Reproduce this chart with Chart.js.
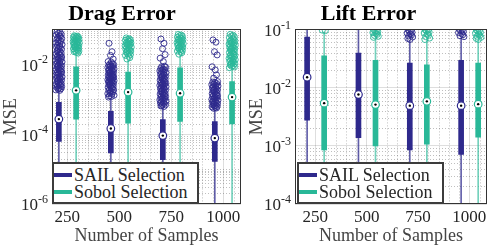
<!DOCTYPE html>
<html>
<head>
<meta charset="utf-8">
<script src="https://cdn.jsdelivr.net/npm/chart.js@4.4.1/dist/chart.umd.min.js"></script>
<style>
  html, body { margin: 0; padding: 0; background: #fff; }
  #wrap { position: relative; width: 492px; height: 248px; overflow: hidden; }
  canvas { position: absolute; top: 0; }
  #drag-chart { left: 0; }
  #lift-chart { left: 246px; }
  .legend {
    position: absolute; top: 162px; width: 143px; height: 38px;
    border: 2px solid #3c3c3c; background: #fff;
    font: 18px 'Liberation Serif', 'Times New Roman', serif; color: #262626;
  }
  .legend div { position: absolute; left: 20px; line-height: 18px; white-space: nowrap; }
  .legend span { position: absolute; left: -20px; top: 7px; width: 18px; height: 4px; }
</style>
</head>
<body>
<div id="wrap">
  <canvas id="drag-chart" width="246" height="248"></canvas>
  <canvas id="lift-chart" width="246" height="248"></canvas>
  <div class="legend" style="left:52px">
    <div style="top:2px"><span style="background:#2e298c"></span>SAIL Selection</div>
    <div style="top:19px"><span style="background:#29b898"></span>Sobol Selection</div>
  </div>
  <div class="legend" style="left:297px">
    <div style="top:2px"><span style="background:#2e298c"></span>SAIL Selection</div>
    <div style="top:19px"><span style="background:#29b898"></span>Sobol Selection</div>
  </div>
</div>
<script>
'use strict';

const sampleSizes = [250, 500, 750, 1000];

// box stats per sample size: [lower whisker, q1, median, q3, upper whisker]
const dragSailStats = [
  [3e-7, 6.2e-5, 2.7e-4, 8.2e-4, 1.7e-3],
  [3e-7, 2.9e-5, 1.45e-4, 4.5e-4, 1.05e-3],
  [3e-7, 1.85e-5, 9.1e-5, 2.6e-4, 5.8e-4],
  [3e-7, 1.66e-5, 7.7e-5, 2.3e-4, 5.0e-4],
];
const dragSobolStats = [
  [3e-7, 2.7e-4, 1.8e-3, 8.5e-3, 0.019],
  [3e-7, 2.05e-4, 1.6e-3, 6.0e-3, 0.013],
  [3e-7, 2.3e-4, 1.48e-3, 7.9e-3, 0.018],
  [3e-7, 1.95e-4, 1.15e-3, 3.2e-3, 7.5e-3],
];
const liftSailStats = [
  [5e-5, 2.76e-3, 0.0151, 0.0735, 0.12],
  [5e-5, 1.38e-3, 7.6e-3, 0.039, 0.12],
  [5e-5, 8.5e-4, 4.9e-3, 0.0264, 0.064],
  [5e-5, 7.1e-4, 4.9e-3, 0.0293, 0.07],
];
const liftSobolStats = [
  [5e-5, 8.5e-4, 5.4e-3, 0.0352, 0.09],
  [5e-5, 1.0e-3, 5.1e-3, 0.0293, 0.07],
  [5e-5, 1.07e-3, 5.8e-3, 0.0247, 0.065],
  [5e-5, 1.41e-3, 5.2e-3, 0.0264, 0.064],
];

const dragSailOutliers = [
  [0.085, 0.082, 0.078, 0.073, 0.07, 0.066, 0.062, 0.058, 0.055, 0.052, 0.049, 0.046, 0.044, 0.041,
   0.039, 0.037, 0.035, 0.033, 0.031, 0.03, 0.029, 0.027, 0.026, 0.024, 0.023, 0.022, 0.021, 0.02,
   0.019, 0.018, 0.017, 0.0162, 0.016, 0.015, 0.0142, 0.0135, 0.013, 0.0125, 0.0118, 0.0114, 0.011,
   0.0102, 0.0098, 0.0095, 0.0091, 0.0088, 0.0084, 0.0081, 0.0077, 0.0074, 0.0071, 0.0068, 0.0066,
   0.0062, 0.006, 0.0057, 0.0055, 0.0053, 0.0051, 0.0049, 0.0046, 0.0044, 0.0043, 0.0041, 0.004,
   0.0038, 0.0037, 0.0035, 0.0034, 0.0032, 0.0031, 0.0029, 0.0028, 0.0027, 0.0026, 0.0025, 0.0024,
   0.0023, 0.0022, 0.0021, 0.002, 0.00195, 0.00185, 0.0018],
  [0.04, 0.023, 0.018, 0.0142, 0.012, 0.0115, 0.0105, 0.0101, 0.0098, 0.0093, 0.009, 0.0087, 0.0085,
   0.0081, 0.0079, 0.0074, 0.0071, 0.0068, 0.0066, 0.0064, 0.0062, 0.006, 0.0058, 0.0056, 0.0054,
   0.0052, 0.005, 0.0049, 0.0047, 0.0046, 0.0044, 0.0043, 0.0041, 0.004, 0.0039, 0.0038, 0.0036,
   0.0035, 0.0034, 0.0033, 0.0032, 0.0031, 0.003, 0.0029, 0.0028, 0.0027, 0.0026, 0.0025, 0.0024,
   0.0023, 0.0022, 0.0021, 0.00205, 0.0019, 0.00185, 0.0018, 0.0017, 0.0016, 0.0015, 0.00145,
   0.0014, 0.0013, 0.00125, 0.0012, 0.00115],
  [0.053, 0.04, 0.028, 0.019, 0.015, 0.012, 0.0088, 0.0085, 0.0082, 0.0076, 0.0073, 0.007, 0.0067,
   0.0065, 0.006, 0.0058, 0.0056, 0.0053, 0.0051, 0.0049, 0.0047, 0.0045, 0.0044, 0.0042, 0.004,
   0.0038, 0.0037, 0.0035, 0.0034, 0.0032, 0.0031, 0.003, 0.0029, 0.0028, 0.0027, 0.0026, 0.0025,
   0.0024, 0.0023, 0.0022, 0.0021, 0.002, 0.00195, 0.0019, 0.0018, 0.0017, 0.00165, 0.0016, 0.0015,
   0.00145, 0.0014, 0.00135, 0.0013, 0.00125, 0.0012, 0.00115, 0.0011, 0.00105, 0.001, 0.00096,
   0.00092, 0.00088, 0.00085, 0.0008, 0.00078, 0.00075, 0.00072, 0.00069, 0.00066, 0.00064, 0.00062],
  [0.05, 0.043, 0.023, 0.0186, 0.0085, 0.0069, 0.005, 0.004, 0.0032, 0.0031, 0.003, 0.0028, 0.0027,
   0.0026, 0.0025, 0.0024, 0.0023, 0.0022, 0.0021, 0.002, 0.0019, 0.00185, 0.0018, 0.00175, 0.0017,
   0.0016, 0.0015, 0.00145, 0.0014, 0.00135, 0.0013, 0.00125, 0.0012, 0.00115, 0.0011, 0.00105,
   0.001, 0.00098, 0.00094, 0.0009, 0.00087, 0.00084, 0.00081, 0.00078, 0.00075, 0.00072, 0.0007,
   0.00067, 0.00065, 0.00062, 0.0006, 0.00058, 0.00056, 0.00055],
];
const dragSobolOutliers = [
  [0.066, 0.064, 0.063, 0.06, 0.059, 0.058, 0.055, 0.054, 0.052, 0.05, 0.049, 0.047, 0.045, 0.044,
   0.043, 0.041, 0.04, 0.039, 0.037, 0.036, 0.035, 0.034, 0.033, 0.032, 0.031, 0.03, 0.029, 0.028,
   0.027, 0.026, 0.025, 0.024, 0.023, 0.022, 0.021],
  [0.057, 0.054, 0.052, 0.05, 0.049, 0.046, 0.045, 0.043, 0.041, 0.04, 0.038, 0.037, 0.036, 0.034,
   0.033, 0.031, 0.03, 0.029, 0.027, 0.026, 0.025, 0.024, 0.023, 0.022, 0.021, 0.02, 0.019, 0.018,
   0.017, 0.0155, 0.0142],
  [0.072, 0.069, 0.066, 0.063, 0.06, 0.057, 0.055, 0.053, 0.051, 0.049, 0.047, 0.045, 0.044, 0.042,
   0.041, 0.039, 0.038, 0.036, 0.035, 0.033, 0.032, 0.031, 0.03, 0.029, 0.027, 0.026, 0.025, 0.024,
   0.023, 0.0215, 0.0195],
  [0.072, 0.068, 0.065, 0.061, 0.058, 0.055, 0.052, 0.049, 0.047, 0.045, 0.043, 0.041, 0.04, 0.038,
   0.037, 0.035, 0.034, 0.032, 0.031, 0.03, 0.029, 0.028, 0.027, 0.026, 0.025, 0.024, 0.023, 0.022,
   0.021, 0.02, 0.019, 0.018, 0.0175, 0.0168, 0.016, 0.0154, 0.0148, 0.0142, 0.0136, 0.013, 0.0125,
   0.012, 0.0115, 0.011, 0.0105, 0.01, 0.0096, 0.0092, 0.0088, 0.0084, 0.008],
];
const liftSailOutliers = [
  [],
  [],
  [0.099, 0.096, 0.092, 0.089, 0.086, 0.083, 0.08, 0.077, 0.074, 0.07, 0.067],
  [0.1, 0.098, 0.095, 0.092, 0.088, 0.085, 0.081, 0.078, 0.075],
];
const liftSobolOutliers = [
  [0.097, 0.095],
  [0.099, 0.096, 0.094, 0.091, 0.088, 0.085, 0.082, 0.079, 0.076, 0.073],
  [0.099, 0.097, 0.094, 0.09, 0.087, 0.083, 0.079, 0.075, 0.071, 0.067],
  [0.098, 0.095, 0.092, 0.089, 0.086, 0.083, 0.079, 0.076, 0.073, 0.07, 0.067],
];

const dragYTicks = [1e-6, 1e-4, 1e-2];
const liftYTicks = [1e-4, 1e-3, 1e-2, 1e-1];

const SERIF = "'Liberation Serif', 'Times New Roman', serif";
const SAIL = { color: '#2e298c', whisker: 'rgba(46,41,140,0.75)', dx: -40 };
const SOBOL = { color: '#29b898', whisker: 'rgba(41,184,152,0.65)', dx: 43 };
// fixed horizontal spread of outlier markers (fractions of JITTER_UNITS)
const JITTER = [-0.55, 0.35, -0.1, 0.7, -0.8, 0.15, 0.5, -0.35, 0.85, -0.6, 0.05, 0.6,
  -0.25, -0.9, 0.3, 0.95, -0.45, 0.2, -0.7, 0.45, -0.15, 0.8, -0.3];
const JITTER_UNITS = 16;

function seriesDatasets(style, stats, outliers) {
  const pos = i => sampleSizes[i] + style.dx;
  const pts = [];
  outliers.forEach((list, i) => list.forEach((v, k) => {
    pts.push({ x: pos(i) + JITTER[k % JITTER.length] * JITTER_UNITS, y: v });
  }));
  return [
    {
      type: 'bar', order: 5, grouped: false, barThickness: 1, clip: 0,
      backgroundColor: style.whisker,
      data: stats.map((s, i) => ({ x: pos(i), y: [s[0], s[4]] })),
    },
    {
      type: 'bar', order: 4, grouped: false, barThickness: 5, clip: 0,
      backgroundColor: style.color,
      data: stats.map((s, i) => ({ x: pos(i), y: [s[1], s[3]] })),
    },
    {
      type: 'scatter', order: 3, clip: 0,
      pointRadius: 3, pointBorderWidth: 0.9, pointBorderColor: style.color,
      pointBackgroundColor: 'rgba(0,0,0,0)',
      data: pts,
    },
    {
      type: 'scatter', order: 2, clip: 0,
      pointRadius: 3.8, pointBorderWidth: 1.2, pointBorderColor: style.color,
      pointBackgroundColor: '#fff',
      data: stats.map((s, i) => ({ x: pos(i), y: s[2] })),
    },
    {
      type: 'scatter', order: 1, clip: 0,
      pointRadius: 1.2, pointBorderWidth: 0, pointBackgroundColor: '#000',
      data: stats.map((s, i) => ({ x: pos(i), y: s[2] })),
    },
  ];
}

// dotted minor grid, axes box and 10^n tick labels, in MATLAB style
const boxGridPlugin = {
  id: 'boxGrid',
  beforeDatasetsDraw(chart) {
    const { ctx, chartArea: a, scales: { x, y } } = chart;
    const majors = chart.options.scales.y.majorTicks;
    ctx.save();
    ctx.beginPath();
    ctx.rect(a.left, a.top, a.width, a.height);
    ctx.clip();
    ctx.strokeStyle = 'rgba(0,0,0,0.25)';
    ctx.lineWidth = 1;
    ctx.setLineDash([1, 2]);
    ctx.beginPath();
    const lo = Math.floor(Math.log10(y.min));
    const hi = Math.ceil(Math.log10(y.max));
    for (let e = lo; e <= hi; e++) {
      for (let m = 1; m < 10; m++) {
        const v = m * Math.pow(10, e);
        if (v < y.min * 0.999 || v > y.max * 1.001) continue;
        if (m === 1 && majors.some(t => Math.abs(Math.log10(t) - e) < 1e-6)) continue;
        const py = Math.round(y.getPixelForValue(v)) + 0.5;
        ctx.moveTo(a.left, py);
        ctx.lineTo(a.right, py);
      }
    }
    for (let v = 100; v <= 1100; v += 50) {
      if (v < x.min || v > x.max || v % 250 === 0) continue;
      const px = Math.round(x.getPixelForValue(v)) + 0.5;
      ctx.moveTo(px, a.top);
      ctx.lineTo(px, a.bottom);
    }
    ctx.stroke();
    ctx.restore();
  },
  afterDatasetsDraw(chart) {
    const { ctx, chartArea: a, scales: { y } } = chart;
    ctx.save();
    ctx.strokeStyle = '#333';
    ctx.lineWidth = 1;
    ctx.strokeRect(Math.round(a.left) + 0.5, Math.round(a.top) + 0.5,
      Math.round(a.width) - 1, Math.round(a.height) - 1);
    // y tick labels as 10 with a raised exponent
    ctx.fillStyle = '#262626';
    ctx.textBaseline = 'middle';
    ctx.textAlign = 'left';
    const right = a.left - 4;
    y.ticks.forEach(t => {
      const py = y.getPixelForValue(t.value);
      const exp = String(Math.round(Math.log10(t.value)));
      ctx.font = '12px ' + SERIF;
      const w2 = ctx.measureText(exp).width;
      ctx.font = '17px ' + SERIF;
      const w1 = ctx.measureText('10').width;
      ctx.fillText('10', right - w2 - w1, py + 2);
      ctx.font = '12px ' + SERIF;
      ctx.fillText(exp, right - w2, py - 4);
    });
    ctx.restore();
  },
};

function makeChart(id, cfg) {
  const datasets = [
    ...seriesDatasets(SAIL, cfg.sail, cfg.sailOut),
    ...seriesDatasets(SOBOL, cfg.sobol, cfg.sobolOut),
  ];
  return new Chart(document.getElementById(id), {
    type: 'scatter',
    data: { datasets },
    options: {
      responsive: false,
      animation: false,
      events: [],
      layout: { padding: { left: 0, right: cfg.padRight, top: 0, bottom: 0 } },
      plugins: {
        legend: { display: false },
        tooltip: { enabled: false },
        title: {
          display: true, text: cfg.title, color: '#000',
          font: { family: SERIF, size: 22, weight: 'bold', lineHeight: 1.2 },
          padding: { top: 1, bottom: 2 },
        },
      },
      scales: {
        x: {
          type: 'linear', min: cfg.xMin, max: cfg.xMax, offset: false,
          afterBuildTicks: s => { s.ticks = sampleSizes.map(v => ({ value: v })); },
          afterFit: s => { s.height = 44; },
          grid: { color: 'rgba(0,0,0,0.13)', drawTicks: false, offset: false },
          border: { display: false },
          ticks: {
            color: '#262626', font: { family: SERIF, size: 17 }, padding: 3,
            maxRotation: 0, autoSkip: false, callback: v => String(v),
          },
          title: {
            display: true, text: 'Number of Samples', color: '#444',
            font: { family: SERIF, size: 18, lineHeight: 1.2 }, padding: { top: 0, bottom: 1 },
          },
        },
        y: {
          type: 'logarithmic', min: cfg.yMin, max: cfg.yMax, beginAtZero: false,
          majorTicks: cfg.yTicks,
          afterBuildTicks: s => { s.ticks = cfg.yTicks.map(v => ({ value: v })); },
          afterFit: s => { s.width = cfg.yWidth; },
          grid: { color: 'rgba(0,0,0,0.13)', drawTicks: false },
          border: { display: false },
          ticks: { display: false },
          title: {
            display: true, text: 'MSE', color: '#444',
            font: { family: SERIF, size: 18, lineHeight: 1.2 }, padding: { top: 0, bottom: 0 },
          },
        },
      },
    },
    plugins: [boxGridPlugin],
  });
}

makeChart('drag-chart', {
  title: 'Drag Error',
  sail: dragSailStats, sobol: dragSobolStats,
  sailOut: dragSailOutliers, sobolOut: dragSobolOutliers,
  yMin: 1e-6, yMax: 1e-1, yTicks: dragYTicks,
  xMin: 177, xMax: 1085, yWidth: 52, padRight: 2,
});

makeChart('lift-chart', {
  title: 'Lift Error',
  sail: liftSailStats, sobol: liftSobolStats,
  sailOut: liftSailOutliers, sobolOut: liftSobolOutliers,
  yMin: 1e-4, yMax: 1e-1, yTicks: liftYTicks,
  xMin: 151, xMax: 1085, yWidth: 49, padRight: 1,
});
</script>
</body>
</html>
